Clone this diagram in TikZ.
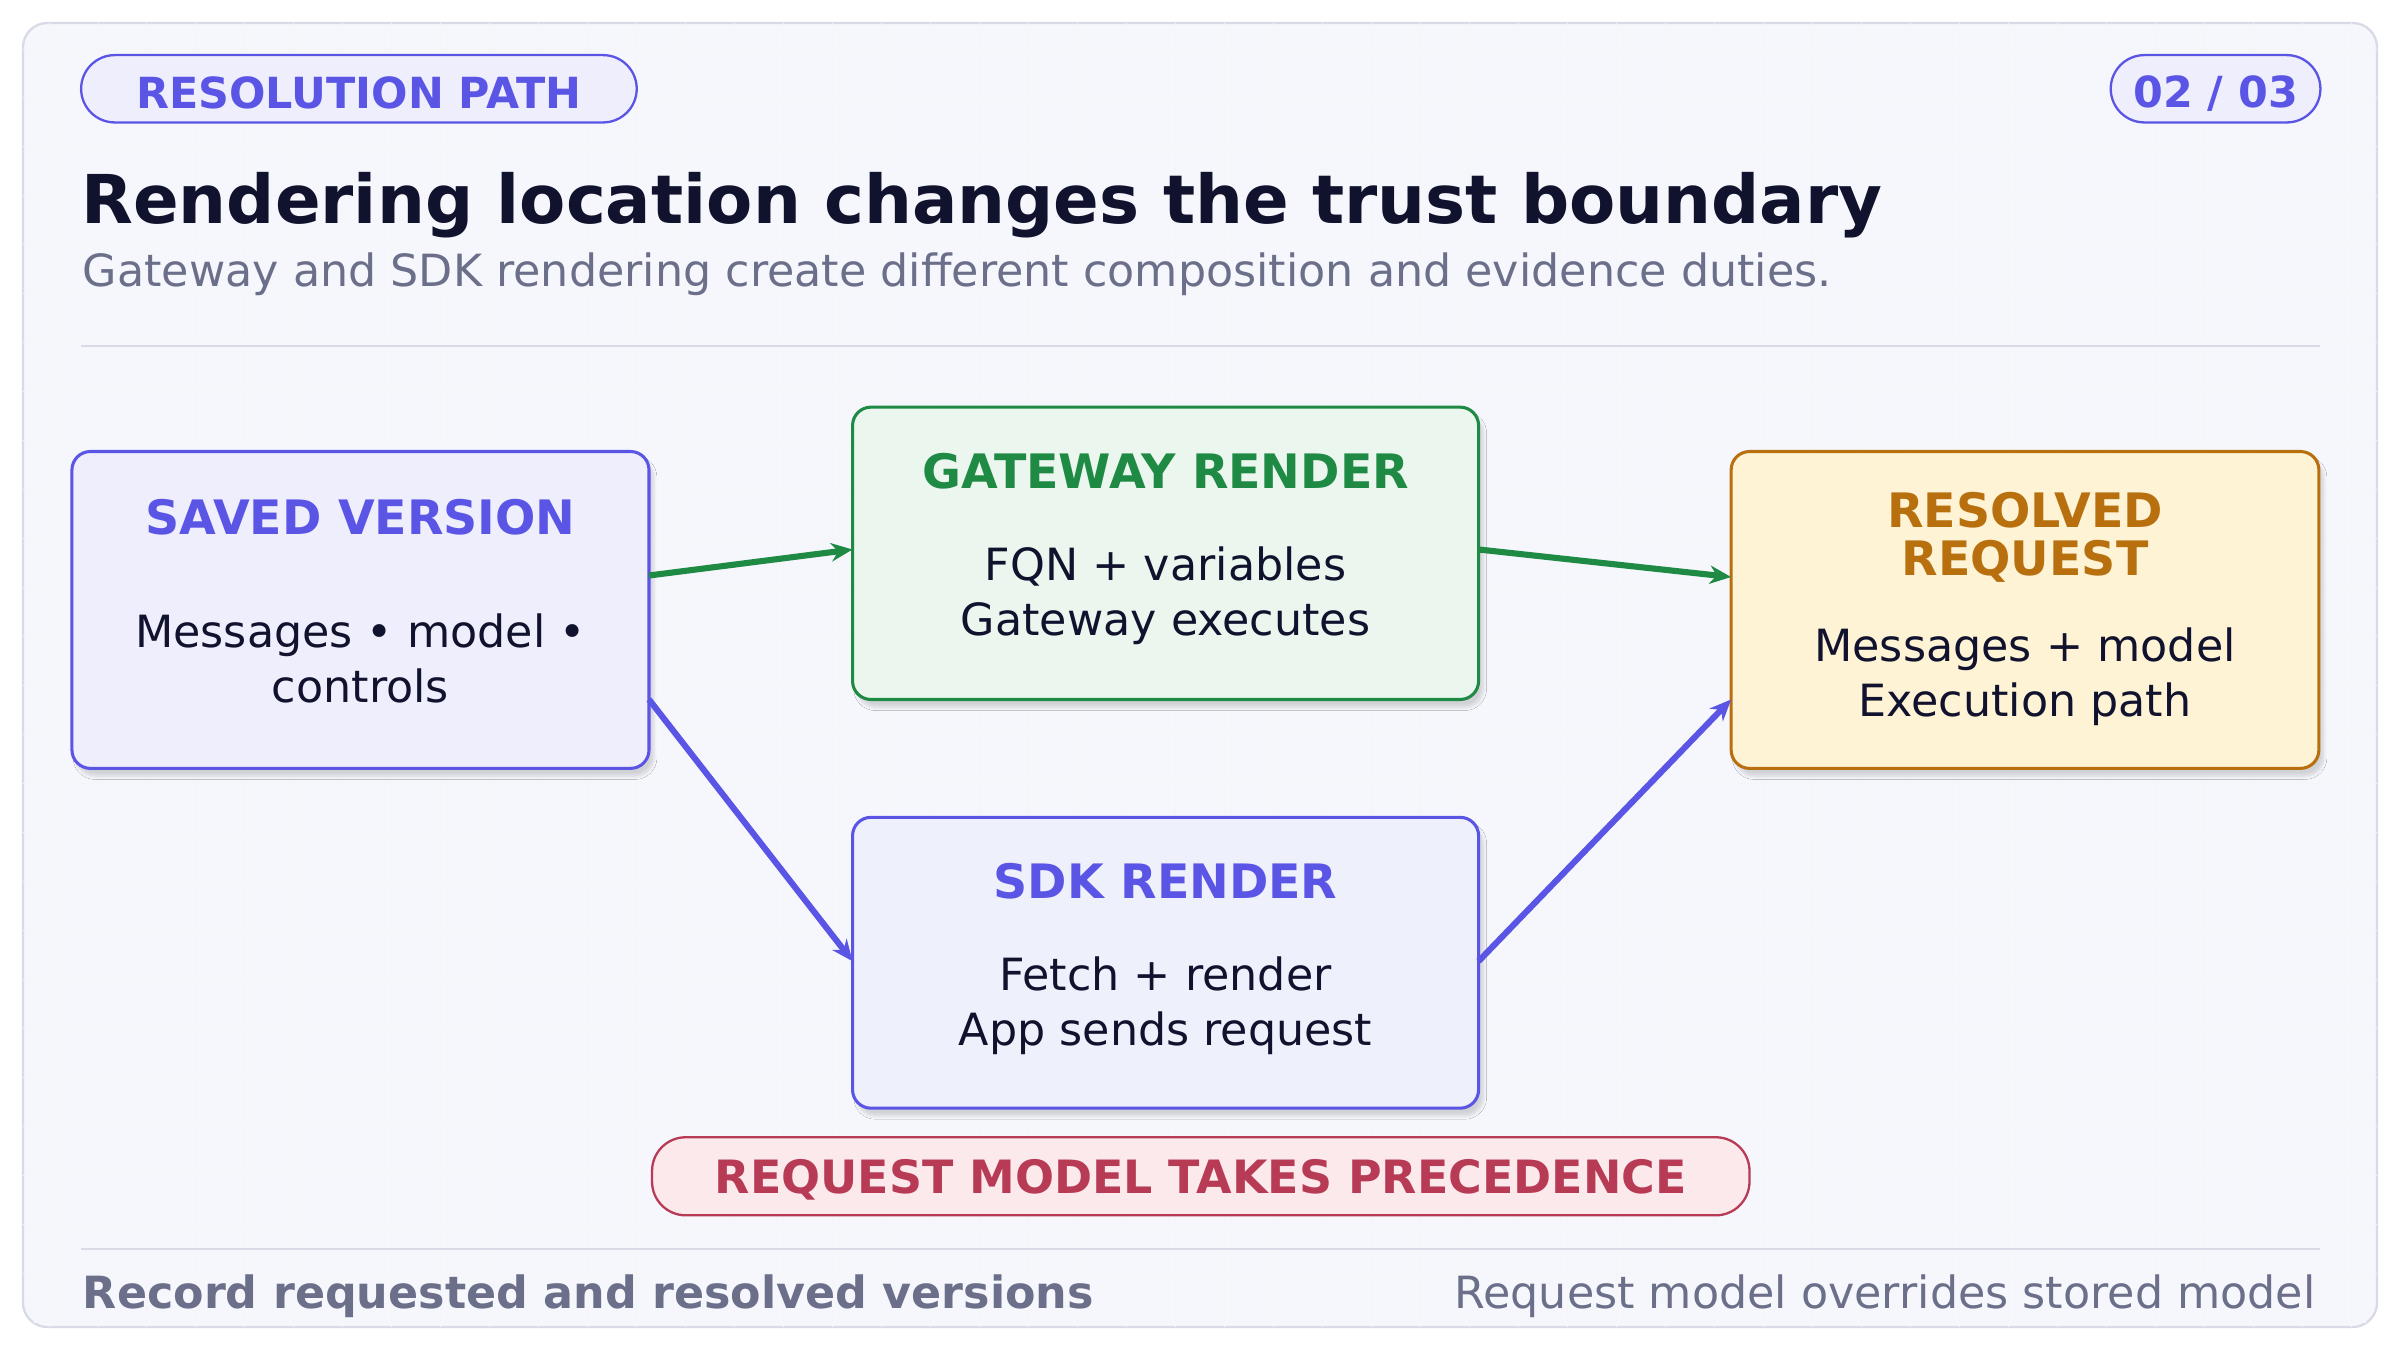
\documentclass[tikz,border=0pt]{standalone}
\usepackage{fontspec}
\setmainfont{DejaVu Sans}
\usetikzlibrary{shadows.blur,arrows.meta}
\definecolor{bg}{HTML}{F6F7FC}
\definecolor{pur}{HTML}{5B55E6}
\definecolor{purfill}{HTML}{EEEEFC}
\definecolor{grn}{HTML}{1E8A44}
\definecolor{grnfill}{HTML}{EAF6EE}
\definecolor{sdkfill}{HTML}{EEF1FC}
\definecolor{org}{HTML}{B8700F}
\definecolor{orgfill}{HTML}{FFF3D6}
\definecolor{red}{HTML}{B83B56}
\definecolor{redfill}{HTML}{FCE9EC}
\definecolor{ink}{HTML}{11132E}
\definecolor{gry}{HTML}{6B6F8A}
\definecolor{rule}{HTML}{D8DAE6}
\tikzset{
 box/.style={draw=#1,line width=2pt,rounded corners=12pt,blur shadow={shadow blur steps=8,shadow xshift=3pt,shadow yshift=-5pt,shadow opacity=15}},
 pill/.style={draw=#1,line width=1.5pt,rounded corners=22pt},
 ttl/.style={font=\bfseries\fontsize{31}{32}\selectfont,align=center},
 body/.style={font=\fontsize{29}{36}\selectfont,align=center,text=ink},
 arr/.style={line width=4pt,-{Stealth[length=14pt,width=12pt]},#1}
}
\begin{document}
\begin{tikzpicture}[x=1pt,y=-1pt]
\useasboundingbox (0,0) rectangle (1568,882);
\fill[white] (0,0) rectangle (1568,882);
\draw[rule,fill=bg,line width=1.5pt,rounded corners=16pt] (15,15) rectangle (1553,867);
\begin{scope}
\clip[rounded corners=16pt] (15,15) rectangle (1553,867);
\foreach \x in {0,32,...,1568} \draw[black!4,line width=0.6pt] (\x,15)--(\x,867);
\foreach \y in {0,32,...,882} \draw[black!4,line width=0.6pt] (15,\y)--(1553,\y);
\end{scope}
% header
\draw[pill=pur,fill=purfill] (53,36) rectangle (416,80);
\node[text=pur,font=\bfseries\fontsize{28}{30}\selectfont] (tag) at (234.5,61) {RESOLUTION PATH};
\draw[pill=pur,fill=purfill] (1379,36) rectangle (1516,80);
\node[text=pur,font=\bfseries\fontsize{28}{30}\selectfont] (pg) at (1447.5,61) {02 / 03};
\node[anchor=base west,text=ink,font=\bfseries\fontsize{44}{46}\selectfont,inner sep=0] (title) at (53,146) {Rendering location changes the trust boundary};
\node[anchor=base west,text=gry,font=\fontsize{29}{31}\selectfont,inner sep=0] (sub) at (54,187) {Gateway and SDK rendering create different composition and evidence duties.};
\draw[rule,line width=1.5pt] (53,226)--(1516,226);
% boxes
\draw[box=pur,fill=purfill] (47,295) rectangle (424,502);
\coordinate (saved) at (235.5,398);
\node[ttl,text=pur] at (235.5,338) {SAVED VERSION};
\node[body] at (235.5,430) {Messages • model •\\controls};
\draw[box=grn,fill=grnfill] (557,266) rectangle (966,457);
\node[ttl,text=grn] at (761.5,308) {GATEWAY RENDER};
\node[body] at (761.5,389) {FQN + variables\\Gateway executes};
\draw[box=pur,fill=sdkfill] (557,534) rectangle (966,724);
\node[ttl,text=pur] at (761.5,576) {SDK RENDER};
\node[body] at (761.5,657) {Fetch + render\\App sends request};
\draw[box=org,fill=orgfill] (1131,295) rectangle (1515,502);
\node[ttl,text=org,font=\bfseries\fontsize{31}{31}\selectfont] at (1323,351) {RESOLVED\\REQUEST};
\node[body] at (1323,442) {Messages + model\\Execution path};
% anchors
\coordinate (s1) at (424,376); \coordinate (g1) at (557,359);
\coordinate (g2) at (966,359); \coordinate (r1) at (1131,377);
\coordinate (s2) at (424,457); \coordinate (k1) at (557,628);
\coordinate (k2) at (966,628); \coordinate (r2) at (1131,457);
\draw[arr=grn] (s1)--(g1);
\draw[arr=grn] (g2)--(r1);
\draw[arr=pur] (s2)--(k1);
\draw[arr=pur] (k2)--(r2);
% precedence
\draw[pill=red,fill=redfill] (426,743) rectangle (1143,794);
\node[text=red,font=\bfseries\fontsize{30}{32}\selectfont] (prec) at (784.5,771) {REQUEST MODEL TAKES PRECEDENCE};
\draw[rule,line width=1.5pt] (53,816)--(1516,816);
\node[anchor=base west,text=gry,font=\bfseries\fontsize{29}{31}\selectfont,inner sep=0] (f1) at (54,855) {Record requested and resolved versions};
\node[anchor=base east,text=gry,font=\fontsize{29}{31}\selectfont,inner sep=0] (f2) at (1513,855) {Request model overrides stored model};
\end{tikzpicture}
\end{document}
